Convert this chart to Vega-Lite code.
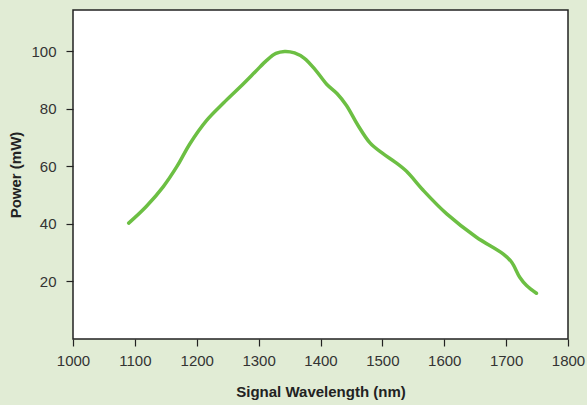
{
  "$schema": "https://vega.github.io/schema/vega-lite/v6.json",
  "width": 495,
  "height": 329,
  "autosize": {"type": "none"},
  "padding": {"left": 73, "top": 10, "right": 19, "bottom": 66},
  "background": "#e1ecd5",
  "config": {
    "view": {"fill": "white", "stroke": "#222222", "strokeWidth": 1.5},
    "axis": {
      "grid": false,
      "domain": false,
      "tickColor": "#222222",
      "tickSize": 7,
      "tickWidth": 1.2,
      "labelFont": "Liberation Sans",
      "labelFontSize": 15,
      "labelColor": "#333333",
      "titleFont": "Liberation Sans",
      "titleFontSize": 15,
      "titleFontWeight": "bold",
      "titleColor": "#222222"
    }
  },
  "data": {
    "values": [
      {"wavelength": 1090, "power": 40.3},
      {"wavelength": 1118, "power": 46},
      {"wavelength": 1146, "power": 53},
      {"wavelength": 1168, "power": 60},
      {"wavelength": 1189, "power": 67.9},
      {"wavelength": 1216, "power": 76},
      {"wavelength": 1244, "power": 82.2},
      {"wavelength": 1270, "power": 87.6},
      {"wavelength": 1295, "power": 93},
      {"wavelength": 1313, "power": 96.9},
      {"wavelength": 1328, "power": 99.3},
      {"wavelength": 1342, "power": 100},
      {"wavelength": 1358, "power": 99.5},
      {"wavelength": 1374, "power": 97.6},
      {"wavelength": 1392, "power": 93.5},
      {"wavelength": 1410, "power": 88.6},
      {"wavelength": 1427, "power": 85.3},
      {"wavelength": 1442, "power": 81.2},
      {"wavelength": 1460, "power": 74.5},
      {"wavelength": 1480, "power": 68.2},
      {"wavelength": 1500, "power": 64.6},
      {"wavelength": 1520, "power": 61.6},
      {"wavelength": 1539, "power": 58.3},
      {"wavelength": 1566, "power": 51.7},
      {"wavelength": 1604, "power": 43.5},
      {"wavelength": 1652, "power": 35.4},
      {"wavelength": 1695, "power": 29.6},
      {"wavelength": 1709, "power": 26.7},
      {"wavelength": 1722, "power": 21.5},
      {"wavelength": 1733, "power": 18.6},
      {"wavelength": 1749, "power": 15.9}
    ]
  },
  "mark": {"type": "line", "interpolate": "catmull-rom", "color": "#6cbf43", "strokeWidth": 3.5, "strokeCap": "round"},
  "encoding": {
    "x": {
      "field": "wavelength",
      "type": "quantitative",
      "title": "Signal Wavelength (nm)",
      "scale": {"domain": [1000, 1800], "nice": false, "zero": false},
      "axis": {"values": [1000, 1100, 1200, 1300, 1400, 1500, 1600, 1700, 1800], "format": "d", "labelPadding": 7, "titlePadding": 16, "labelFlush": false}
    },
    "y": {
      "field": "power",
      "type": "quantitative",
      "title": "Power (mW)",
      "scale": {"domain": [0, 114.4], "nice": false},
      "axis": {"values": [20, 40, 60, 80, 100], "format": "d", "labelPadding": 10, "titlePadding": 7}
    }
  }
}
